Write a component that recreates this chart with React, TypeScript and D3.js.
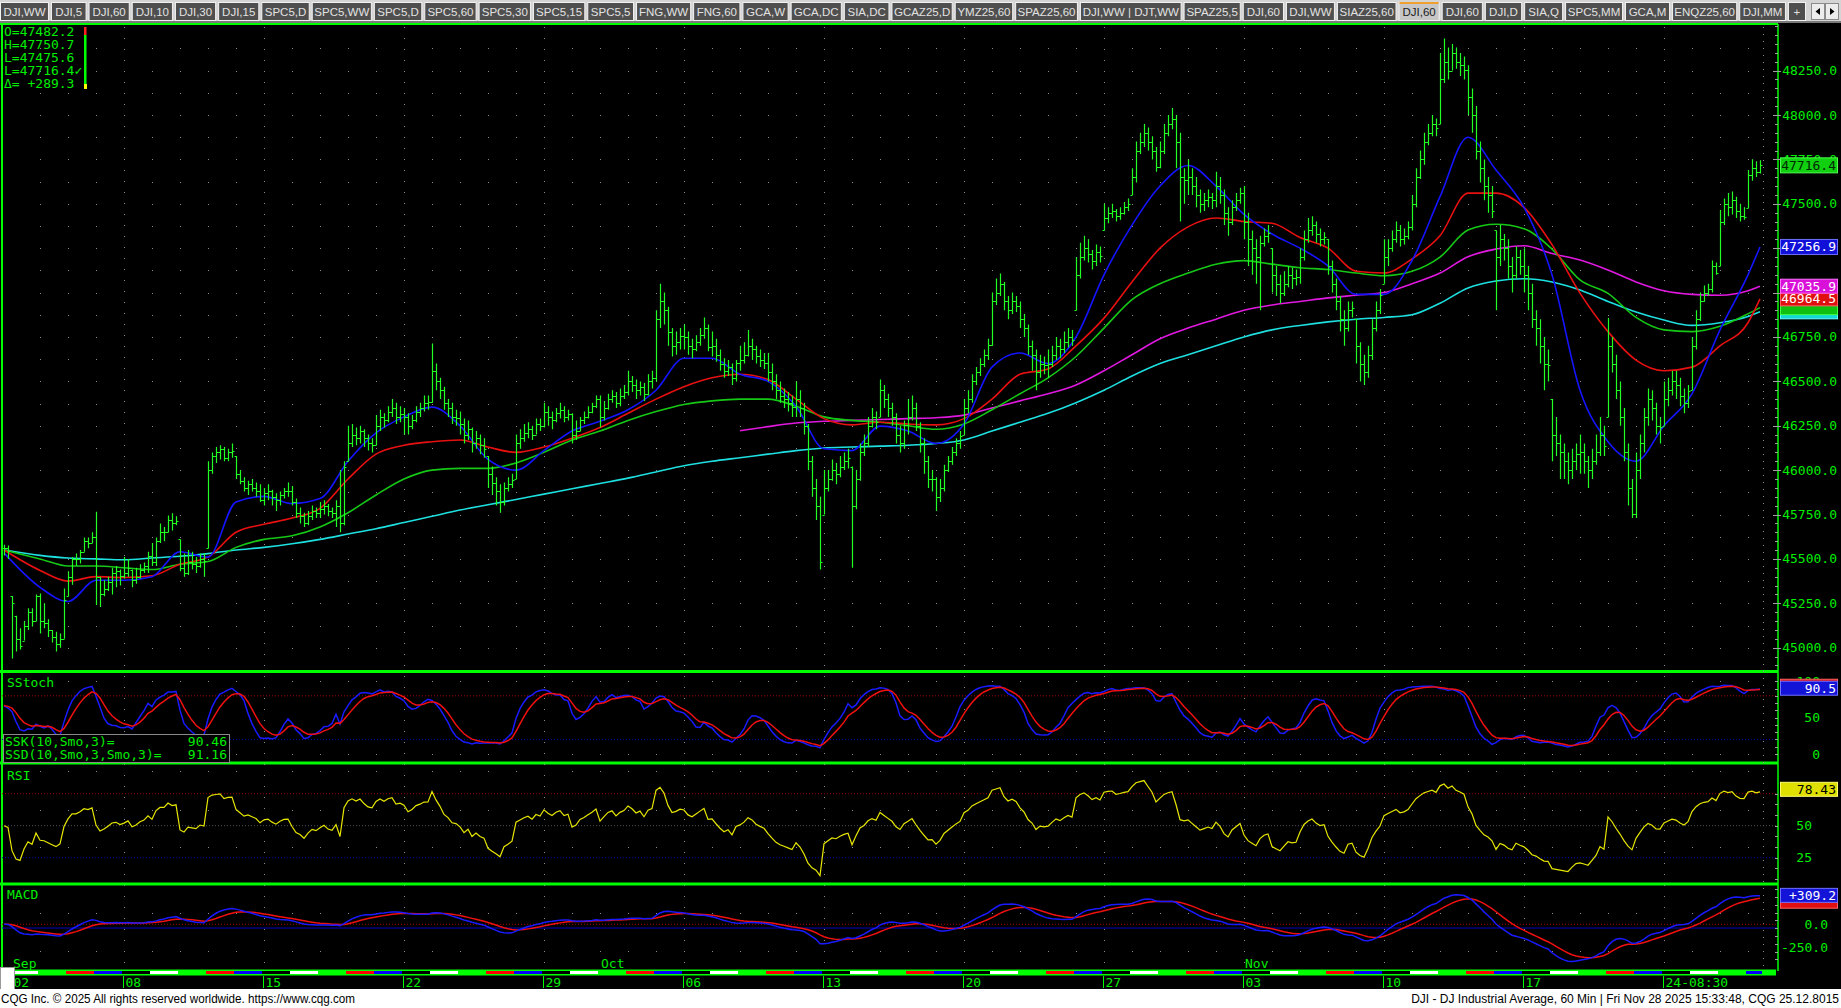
import React, { useMemo } from 'react';
import * as d3 from 'd3';

const FULL_W = 1841;
const FULL_H = 1008;

// ---------------- DATA ----------------
// Trading sessions shown (hourly bars, 7 per session, 4 on the half day Nov 28)
const sessionDates = [
  '2025-09-02','2025-09-03','2025-09-04','2025-09-05','2025-09-08','2025-09-09','2025-09-10','2025-09-11','2025-09-12',
  '2025-09-15','2025-09-16','2025-09-17','2025-09-18','2025-09-19','2025-09-22','2025-09-23','2025-09-24','2025-09-25',
  '2025-09-26','2025-09-29','2025-09-30','2025-10-01','2025-10-02','2025-10-03','2025-10-06','2025-10-07','2025-10-08',
  '2025-10-09','2025-10-10','2025-10-13','2025-10-14','2025-10-15','2025-10-16','2025-10-17','2025-10-20','2025-10-21',
  '2025-10-22','2025-10-23','2025-10-24','2025-10-27','2025-10-28','2025-10-29','2025-10-30','2025-10-31','2025-11-03',
  '2025-11-04','2025-11-05','2025-11-06','2025-11-07','2025-11-10','2025-11-11','2025-11-12','2025-11-13','2025-11-14',
  '2025-11-17','2025-11-18','2025-11-19','2025-11-20','2025-11-21','2025-11-24','2025-11-25','2025-11-26','2025-11-28'
];
const weekStartSessions = [0, 4, 9, 14, 19, 24, 29, 34, 39, 44, 49, 54, 59];
const weekTickLabels = ['02','08','15','22','29','06','13','20','27','03','10','17','24-08:30'];
const monthStartSessions = [0, 21, 44];
const monthLabels = ['Sep', 'Oct', 'Nov'];

// first two values: last two bars of Aug 29; then one row per session
const barClose = [
  45560, 45545,
  45250, 45050, 45010, 45120, 45200, 45150, 45290,
  45150, 45140, 45100, 45060, 45020, 45050, 45270,
  45400, 45500, 45500, 45540, 45600, 45590, 45621,
  45400, 45300, 45330, 45370, 45420, 45430, 45401,
  45420, 45450, 45380, 45400, 45440, 45460, 45515,
  45480, 45600, 45650, 45650, 45720, 45700, 45711,
  45450, 45420, 45480, 45470, 45460, 45500, 45490,
  46000, 46080, 46100, 46120, 46070, 46100, 46108,
  45980, 45940, 45900, 45920, 45900, 45880, 45834,
  45870, 45880, 45850, 45830, 45860, 45880, 45883,
  45820, 45760, 45740, 45700, 45740, 45770, 45758,
  45780, 45800, 45770, 45760, 45800, 45700, 46018,
  46150, 46200, 46180, 46220, 46180, 46150, 46142,
  46250, 46300, 46280, 46330, 46350, 46300, 46315,
  46300, 46250, 46280, 46330, 46350, 46380, 46381,
  46560, 46500, 46450, 46380, 46350, 46300, 46292,
  46260, 46200, 46230, 46150, 46180, 46140, 46121,
  45980, 45930, 45880, 45820, 45900, 45920, 45947,
  46150, 46180, 46210, 46230, 46200, 46260, 46247,
  46330, 46300, 46280, 46320, 46340, 46300, 46316,
  46200, 46220, 46280, 46300, 46330, 46360, 46398,
  46300, 46350, 46400, 46420, 46380, 46420, 46441,
  46500, 46480, 46450, 46470, 46430, 46500, 46519,
  46850, 46950, 46900, 46780, 46700, 46720, 46758,
  46750, 46700, 46680, 46720, 46760, 46800, 46694,
  46700, 46650, 46600, 46560, 46580, 46520, 46603,
  46620, 46650, 46700, 46680, 46640, 46620, 46602,
  46550, 46500, 46450, 46420, 46400, 46380, 46358,
  46400, 46350, 46250, 46050, 45900, 45800, 45480,
  45900, 45950, 46000, 45980, 46020, 46050, 46068,
  45800, 45950, 46100, 46150, 46250, 46300, 46270,
  46450, 46400, 46350, 46300, 46200, 46150, 46253,
  46300, 46350, 46250, 46150, 46050, 45950, 45952,
  45850, 45900, 46000, 46050, 46100, 46150, 46190,
  46350, 46400, 46500, 46550, 46600, 46650, 46706,
  46950, 47000, 47050, 46950, 46900, 46950, 46924,
  46850, 46800, 46700, 46650, 46550, 46600, 46590,
  46600, 46650, 46700, 46680, 46720, 46750, 46734,
  47100, 47200, 47250, 47220, 47180, 47230, 47207,
  47420, 47450, 47460, 47430, 47450, 47480, 47500,
  47650, 47800, 47850, 47900, 47850, 47800, 47706,
  47800, 47900, 47950, 47980, 47850, 47650, 47632,
  47650, 47600, 47550, 47500, 47520, 47540, 47522,
  47600, 47550, 47450, 47400, 47480, 47520, 47563,
  47400, 47300, 47250, 47200, 47280, 47320, 47336,
  47100, 47050, 47000, 47050, 47100, 47080, 47085,
  47200, 47300, 47350, 47380, 47330, 47300, 47311,
  47150, 47050, 46950, 46850, 46800, 46900, 46912,
  46700, 46600, 46550, 46650, 46800, 46900, 46987,
  47200, 47250, 47300, 47350, 47300, 47320, 47368,
  47500, 47650, 47750, 47850, 47900, 47950, 47927,
  48200, 48300, 48250, 48350, 48300, 48280, 48255,
  48100, 48000, 47800, 47700, 47600, 47550, 47457,
  47200, 47300, 47250, 47150, 47100, 47200, 47147,
  47100, 47000, 46850, 46800, 46700, 46600, 46590,
  46200, 46150, 46100, 46050, 46000, 46050, 46091,
  46100, 46050, 46000, 46050, 46100, 46200, 46138,
  46700, 46600, 46450, 46300, 46100, 45900, 45752,
  46000, 46150, 46300, 46400, 46350, 46250, 46245,
  46400, 46450, 46500, 46480, 46420, 46380, 46448,
  46700, 46850, 46950, 47000, 47020, 47150, 47112,
  47400, 47500, 47480, 47520, 47460, 47430, 47427,
  47660, 47700, 47680, 47716.4
];
const barHigh = [
  45580, 45575,
  45290, 45180, 45110, 45150, 45222, 45222, 45300,
  45306, 45250, 45160, 45100, 45090, 45080, 45334,
  45430, 45510, 45530, 45550, 45620, 45620, 45650,
  45766, 45400, 45380, 45400, 45450, 45460, 45440,
  45510, 45500, 45440, 45450, 45470, 45480, 45540,
  45590, 45620, 45700, 45680, 45745, 45757, 45740,
  45610, 45530, 45550, 45540, 45510, 45530, 45530,
  46050, 46100, 46130, 46140, 46130, 46120, 46150,
  46080, 46000, 45960, 45940, 45950, 45930, 45920,
  45900, 45920, 45890, 45870, 45880, 45900, 45930,
  45910, 45840, 45790, 45760, 45770, 45800, 45790,
  45820, 45830, 45810, 45790, 45830, 46000, 46050,
  46250, 46260, 46240, 46250, 46230, 46200, 46180,
  46310, 46340, 46320, 46360, 46400, 46380, 46360,
  46350, 46320, 46310, 46360, 46380, 46420, 46420,
  46714, 46600, 46520, 46470, 46400, 46380, 46340,
  46330, 46290, 46280, 46240, 46220, 46200, 46180,
  46080, 46020, 45960, 45920, 45930, 45960, 45980,
  46200, 46230, 46260, 46270, 46250, 46290, 46290,
  46380, 46360, 46330, 46350, 46380, 46360, 46340,
  46320, 46280, 46300, 46330, 46360, 46380, 46420,
  46420, 46390, 46430, 46450, 46440, 46460, 46480,
  46560, 46530, 46510, 46500, 46490, 46540, 46560,
  46900, 47050, 47000, 46920, 46800, 46780, 46800,
  46820, 46780, 46740, 46760, 46800, 46860, 46820,
  46780, 46740, 46680, 46630, 46620, 46600, 46620,
  46700, 46720, 46790, 46740, 46700, 46680, 46660,
  46660, 46600, 46540, 46500, 46460, 46440, 46420,
  46500, 46450, 46380, 46260, 46080, 45950, 45850,
  46000, 46000, 46060, 46040, 46080, 46100, 46120,
  46020, 46000, 46150, 46200, 46300, 46350, 46330,
  46510, 46480, 46430, 46380, 46320, 46250, 46280,
  46400, 46420, 46380, 46270, 46180, 46080, 46000,
  45960, 45950, 46030, 46080, 46130, 46180, 46220,
  46400, 46450, 46540, 46580, 46630, 46680, 46740,
  47000, 47080, 47107, 47060, 46980, 47000, 46980,
  46950, 46880, 46820, 46730, 46680, 46650, 46640,
  46680, 46700, 46750, 46740, 46780, 46800, 46790,
  47200, 47280, 47320, 47300, 47240, 47270, 47260,
  47500, 47480, 47500, 47470, 47480, 47510, 47530,
  47700, 47850, 47900, 47950, 47930, 47880, 47820,
  47850, 47950, 48000, 48040, 48000, 47900, 47700,
  47750, 47700, 47650, 47580, 47560, 47580, 47560,
  47680, 47650, 47580, 47480, 47520, 47560, 47590,
  47600, 47450, 47350, 47300, 47320, 47360, 47380,
  47250, 47150, 47100, 47120, 47150, 47140, 47130,
  47250, 47350, 47420, 47430, 47400, 47360, 47340,
  47300, 47180, 47080, 46980, 46900, 46950, 46950,
  46850, 46720, 46650, 46700, 46850, 46950, 47020,
  47300, 47300, 47350, 47400, 47380, 47360, 47400,
  47550, 47700, 47800, 47900, 47950, 48000, 47980,
  48350, 48431, 48380, 48400, 48380, 48350, 48330,
  48280, 48150, 48050, 47850, 47750, 47650, 47600,
  47350, 47380, 47330, 47300, 47200, 47260, 47240,
  47250, 47150, 47050, 46900, 46850, 46750, 46680,
  46400, 46300, 46200, 46150, 46100, 46120, 46150,
  46200, 46150, 46080, 46120, 46200, 46300, 46250,
  46856, 46750, 46650, 46500, 46350, 46150, 45950,
  46100, 46200, 46350, 46460, 46450, 46380, 46300,
  46500, 46520, 46560, 46560, 46520, 46460, 46480,
  46750, 46900, 47000, 47040, 47050, 47180, 47170,
  47465, 47530, 47560, 47570, 47540, 47500, 47480,
  47690, 47750.7, 47740, 47745
];
const barLow = [
  45520, 45500,
  44940, 44978, 44990, 45040, 45100, 45120, 45150,
  45080, 45110, 45060, 45030, 44978, 45000, 45050,
  45290, 45355, 45460, 45475, 45540, 45560, 45590,
  45240, 45230, 45290, 45320, 45300, 45340, 45350,
  45390, 45400, 45340, 45360, 45390, 45420, 45420,
  45460, 45460, 45590, 45600, 45650, 45660, 45690,
  45430, 45400, 45410, 45440, 45420, 45450, 45400,
  45560, 45980, 46040, 46060, 46050, 46050, 46070,
  45950, 45920, 45880, 45860, 45880, 45850, 45820,
  45800, 45830, 45800, 45770, 45800, 45840, 45850,
  45800, 45730, 45700, 45680, 45690, 45720, 45730,
  45730, 45750, 45740, 45730, 45680, 45650, 45690,
  46050, 46130, 46140, 46150, 46130, 46110, 46100,
  46140, 46220, 46240, 46270, 46300, 46260, 46270,
  46200, 46200, 46230, 46270, 46300, 46330, 46340,
  46380, 46450, 46400, 46340, 46300, 46260, 46250,
  46200, 46150, 46170, 46100, 46120, 46090, 46070,
  45900, 45860, 45800, 45760, 45800, 45880, 45900,
  45950, 46120, 46160, 46180, 46170, 46200, 46220,
  46240, 46250, 46230, 46270, 46290, 46270, 46280,
  46150, 46170, 46220, 46260, 46290, 46320, 46350,
  46240, 46280, 46340, 46380, 46350, 46360, 46400,
  46420, 46440, 46400, 46420, 46390, 46420, 46460,
  46500, 46800, 46820, 46700, 46640, 46650, 46680,
  46680, 46650, 46630, 46670, 46700, 46740, 46670,
  46640, 46610, 46560, 46520, 46530, 46480, 46500,
  46560, 46600, 46640, 46620, 46600, 46580, 46570,
  46500, 46450, 46400, 46380, 46350, 46330, 46300,
  46300, 46300, 46200, 46000, 45850, 45720, 45440,
  45750, 45880, 45940, 45920, 45960, 46000, 46010,
  45450, 45780, 45940, 46080, 46130, 46240, 46230,
  46300, 46350, 46300, 46250, 46150, 46100, 46120,
  46200, 46280, 46220, 46100, 45980, 45900, 45880,
  45770, 45820, 45880, 45990, 46030, 46080, 46120,
  46200, 46320, 46380, 46480, 46530, 46580, 46620,
  46700, 46930, 46980, 46900, 46850, 46880, 46890,
  46800, 46750, 46650, 46560, 46450, 46520, 46540,
  46520, 46580, 46620, 46630, 46660, 46690, 46700,
  46900, 47080, 47180, 47170, 47130, 47150, 47170,
  47350, 47390, 47420, 47400, 47410, 47440, 47460,
  47550, 47620, 47780, 47820, 47800, 47750, 47680,
  47700, 47780, 47880, 47920, 47700, 47400, 47500,
  47550, 47550, 47480, 47450, 47460, 47480, 47470,
  47480, 47500, 47380, 47320, 47380, 47460, 47500,
  47300, 47150, 47100, 47050, 46900, 47260, 47280,
  47000, 46980, 46940, 46980, 47030, 47020, 47040,
  47050, 47180, 47280, 47320, 47280, 47260, 47270,
  47100, 47000, 46900, 46780, 46700, 46780, 46860,
  46600, 46500, 46480, 46520, 46620, 46780, 46880,
  47050, 47150, 47230, 47280, 47260, 47270, 47300,
  47350, 47480, 47640, 47720, 47830, 47880, 47880,
  47950, 48180, 48200, 48250, 48260, 48220, 48200,
  48000, 47900, 47750, 47620, 47520, 47450, 47420,
  46900, 47150, 47180, 47080, 47000, 47080, 47100,
  47000, 46900, 46800, 46700, 46600, 46450, 46500,
  46050, 46080, 45950, 45950, 45920, 45950, 46000,
  45980, 45980, 45900, 45950, 46030, 46080, 46080,
  46300, 46550, 46400, 46250, 46050, 45800, 45730,
  45730, 45950, 46100, 46250, 46280, 46200, 46150,
  46250, 46360, 46420, 46400, 46360, 46320, 46350,
  46450, 46680, 46840, 46950, 46980, 47000, 47100,
  47150, 47380, 47430, 47440, 47420, 47400, 47410,
  47476, 47630, 47650, 47670
];

// Moving averages at each session start (first = chart start, last = latest bar)
const maBlue = [45534,45340,45260,45380,45380,45400,45540,45510,45820,45852,45812,45840,46050,46210,46300,46355,46250,46060,46000,46110,46220,46275,46340,46450,46630,46630,46540,46500,46360,46120,46110,46248,46220,46150,46260,46580,46660,46600,46750,47100,47380,47600,47716,47600,47440,47330,47250,47150,46990,46990,47180,47540,47875,47690,47480,47100,46450,46160,46050,46250,46430,46790,47100,47256.9];
const maRed = [45550,45435,45375,45400,45395,45405,45470,45510,45650,45695,45730,45785,45950,46090,46140,46160,46170,46130,46100,46130,46180,46240,46320,46400,46470,46520,46540,46510,46400,46290,46255,46270,46260,46255,46290,46400,46540,46570,46700,46856,47060,47250,47370,47420,47400,47390,47310,47250,47120,47110,47190,47320,47560,47560,47480,47270,46997,46780,46620,46560,46580,46700,46830,46964.5];
const maGreen = [45550,45500,45460,45460,45450,45440,45470,45485,45565,45610,45630,45680,45760,45860,45950,46000,46010,46010,46040,46100,46170,46220,46280,46330,46370,46390,46400,46400,46360,46300,46280,46270,46250,46230,46260,46340,46430,46520,46640,46800,46960,47050,47110,47160,47180,47160,47140,47130,47110,47095,47120,47200,47352,47385,47360,47245,47071,46995,46860,46790,46780,46810,46880,46915];
const maMagenta = [null,null,null,null,null,null,null,null,null,null,null,null,null,null,null,null,null,null,null,null,null,null,null,null,null,null,46222,46245,46265,46275,46280,46285,46290,46295,46310,46350,46390,46430,46480,46560,46650,46740,46800,46850,46900,46930,46950,46970,46985,47000,47050,47110,47202,47245,47264,47220,47183,47127,47060,47010,46990,46985,47010,47035.9];
const maCyan = [45550,45520,45505,45500,45495,45505,45515,45530,45550,45565,45585,45610,45640,45670,45705,45740,45775,45805,45835,45865,45895,45925,45955,45990,46025,46050,46070,46090,46110,46125,46130,46135,46140,46150,46170,46220,46270,46320,46380,46450,46530,46600,46650,46700,46750,46790,46815,46835,46850,46860,46875,46940,47026,47065,47078,47060,47015,46950,46890,46845,46815,46830,46865,46891.6];

const priceTicks = [45000,45250,45500,45750,46000,46250,46500,46750,47000,47250,47500,47750,48000,48250];
const hiddenPriceTicks = [47000, 47250]; // fully covered by the value boxes in the reference
const stochTicks = [0, 50, 100];
const rsiTicks = [25, 50];
const macdTicks = [-250, 0];

const infoLines = ['O=47482.2', 'H=47750.7', 'L=47475.6', 'L=47716.4\u2713', '\u0394= +289.3'];
const lastPriceLabel = 47716.4;
const sskValue = 90.46, ssdValue = 91.16, rsiValue = 78.43, macdValue = 309.2, macdSignalValue = 268;

const tabLabels = ['DJI,WW','DJI,5','DJI,60','DJI,10','DJI,30','DJI,15','SPC5,D','SPC5,WW','SPC5,D','SPC5,60','SPC5,30','SPC5,15','SPC5,5','FNG,WW','FNG,60','GCA,W','GCA,DC','SIA,DC','GCAZ25,D','YMZ25,60','SPAZ25,60','DJI,WW  |  DJT,WW','SPAZ25,5','DJI,60','DJI,WW','SIAZ25,60','DJI,60','DJI,60','DJI,D','SIA,Q','SPC5,MM','GCA,M','ENQZ25,60','DJI,MM','+'];
const activeTab = 26;

// ---------------- LAYOUT ----------------
const PL = 2, PR = 1778;
const MAIN_T = 24, MAIN_B = 671.5, ST_B = 763, RSI_B = 884, MACD_B = 969;
const MONO = "'DejaVu Sans Mono', monospace";
const GREEN = '#00ee00';

function smoothAvg(a: number[], n: number) {
  const out: number[] = [];
  a.forEach((v, i) => { out.push(i === 0 ? v : out[i - 1] + (v - out[i - 1]) / n); });
  return out;
}
function ema(a: number[], n: number) {
  const k = 2 / (n + 1); const out: number[] = [];
  a.forEach((v, i) => out.push(i === 0 ? v : out[i - 1] + k * (v - out[i - 1])));
  return out;
}

export default function App() {
  const m = useMemo(() => {
    const nBars = barClose.length;
    const kOf = (i: number) => i - 2;
    const xs = d3.scaleLinear().domain([-3, 441.5]).range([0, PR]);
    const ps = d3.scaleLinear().domain([45000, 48000]).range([647.7, 115]);
    const ss = d3.scaleLinear().domain([0, 100]).range([754, 681.3]);
    const rs = d3.scaleLinear().domain([25, 75]).range([857.7, 793.7]);
    const ms = d3.scaleLinear().domain([-250, 0]).range([947.7, 924.3]);

    const opens = barClose.map((c, i) => {
      const prev = i === 0 ? c : barClose[i - 1];
      return Math.max(barLow[i], Math.min(barHigh[i], prev));
    });
    let barPath = '';
    for (let i = 0; i < nBars; i++) {
      const x = Math.round(xs(kOf(i))) + 0.5;
      const hi = Math.max(barHigh[i], barClose[i]);
      const lo = Math.min(barLow[i], barClose[i]);
      let yH = ps(hi), yL = ps(lo);
      if (yL - yH < 1) yL = yH + 1;
      const yO = Math.round(ps(opens[i])) + 0.5, yC = Math.round(ps(barClose[i])) + 0.5;
      barPath += `M${x},${yH.toFixed(1)}V${yL.toFixed(1)}M${x - 2},${yO}H${x}M${x},${yC}H${x + 2}`;
    }

    // indicators computed from the bars
    const fastK = barClose.map((c, i) => {
      const s = Math.max(0, i - 9);
      const hh = d3.max(barHigh.slice(s, i + 1)) as number;
      const ll = d3.min(barLow.slice(s, i + 1)) as number;
      return hh === ll ? 50 : (100 * (c - ll)) / (hh - ll);
    });
    const ssk = smoothAvg(fastK, 3);
    const ssd = smoothAvg(ssk, 3);
    const rsi: number[] = [];
    let ag = 20, al = 20;
    barClose.forEach((c, i) => {
      if (i > 0) {
        const ch = c - barClose[i - 1];
        ag = (ag * 13 + Math.max(ch, 0)) / 14;
        al = (al * 13 + Math.max(-ch, 0)) / 14;
      }
      rsi.push(al === 0 ? 100 : 100 - 100 / (1 + ag / al));
    });
    const e12 = ema(barClose, 12), e26 = ema(barClose, 26);
    const macd = e12.map((v, i) => v - e26[i]);
    const sig = ema(macd, 9);

    const lineOf = (vals: number[], ys: any) =>
      d3.line<number>().x((_, i) => xs(kOf(i))).y((v) => ys(v))(vals) || '';

    const maBars = [-2, ...d3.range(1, sessionDates.length).map((d) => d * 7), nBars - 3];
    const maLine = (vals: (number | null)[]) =>
      d3.line<number | null>()
        .defined((v) => v !== null)
        .x((_, i) => xs(maBars[i]))
        .y((v) => ps(v as number))
        .curve(d3.curveMonotoneX)(vals) || '';

    const sessStart = (d: number) => d * 7;
    const sessLen = (d: number) => (d === sessionDates.length - 1 ? nBars - 2 - d * 7 : 7);
    const weekday = sessionDates.map((s) => new Date(s + 'T12:00:00').getDay());

    let dots = '';
    const dotRow = (y: number) => {
      sessionDates.forEach((_, d) => {
        if (weekStartSessions.includes(d)) return;
        const x = Math.round(xs(sessStart(d)));
        dots += `M${x},${Math.round(y)}h1v1h-1z`;
      });
    };
    for (let p = 44875; p <= 48500; p += 125) {
      const y = ps(p);
      if (y > MAIN_T + 3 && y < MAIN_B - 3) dotRow(y);
    }
    [100, 0].forEach((v) => dotRow(ss(v)));
    [93, 62, 33].forEach((v) => dotRow(rs(v)));
    [120, -290].forEach((v) => dotRow(ms(v)));

    const ctx = document.createElement('canvas').getContext('2d') as CanvasRenderingContext2D;
    ctx.font = "11.5px 'Liberation Sans'";
    const natural = tabLabels.map((t) => ctx.measureText(t).width + 14);
    const gap = 2;
    const target = 1806 - gap * (tabLabels.length - 1);
    const f = target / d3.sum(natural);
    let cx = 0;
    const tabs = tabLabels.map((t, i) => {
      const w = natural[i] * f;
      const r = { x: cx, w, t };
      cx += w + gap;
      return r;
    });

    return { xs, ps, ss, rs, ms, barPath, ssk, ssd, rsi, macd, sig, lineOf, maLine, sessStart, sessLen, weekday, dots, tabs };
  }, []);

  const { xs, ps, ss, rs, ms } = m;

  const valueBox = (y: number, fill: string, stroke: string, text: string | null, color: string, key: string, h = 15) => (
    <g key={key}>
      <rect x={1780.5} y={y - h / 2} width={57} height={h} fill={fill} stroke={stroke} strokeWidth={1} />
      {text !== null && <text x={1836} y={y + 4.5} textAnchor="end" fill={color} fontFamily={MONO} fontSize={13}>{text}</text>}
    </g>
  );

  const stripColor = (wd: number) => (wd === 1 ? '#000000' : wd === 2 ? '#ffffff' : wd === 3 ? '#00ff00' : wd === 4 ? '#ff0000' : '#0000ff');
  const lastOf = (a: (number | null)[]) => a[a.length - 1] as number;

  return (
    <svg width={FULL_W} height={FULL_H} style={{ position: 'absolute', left: 0, top: 0, display: 'block' }}>
      <defs>
        <clipPath id="cMain"><rect x={PL + 1} y={MAIN_T + 1} width={PR - PL - 2} height={MAIN_B - MAIN_T - 2} /></clipPath>
        <clipPath id="cSt"><rect x={PL + 1} y={MAIN_B + 1.5} width={PR - PL - 2} height={ST_B - MAIN_B - 3} /></clipPath>
        <clipPath id="cRsi"><rect x={PL + 1} y={ST_B + 1.5} width={PR - PL - 2} height={RSI_B - ST_B - 3} /></clipPath>
        <clipPath id="cMacd"><rect x={PL + 1} y={RSI_B + 1.5} width={PR - PL - 2} height={MACD_B - RSI_B - 2} /></clipPath>
      </defs>
      <rect x={0} y={0} width={FULL_W} height={FULL_H} fill="#000" />

      {/* tab bar */}
      <rect x={0} y={0} width={FULL_W} height={22} fill="#d4d4d4" />
      {m.tabs.map((t, i) => (
        <g key={'tab' + i}>
          <rect x={t.x + 0.5} y={2.5} width={t.w - 1} height={18} fill={i === activeTab ? '#c6c6c6' : '#4f4f4f'} stroke="#f2f2f2" strokeWidth={1} />
          {i === activeTab && <rect x={t.x + 1} y={2} width={t.w - 2} height={2} fill="#f0a030" />}
          <text x={t.x + t.w / 2} y={15.5} textAnchor="middle" fill={i === activeTab ? '#202020' : '#e2e2e2'} fontFamily="'Liberation Sans', Arial, sans-serif" fontSize={11.5}>{t.t}</text>
        </g>
      ))}
      <rect x={1811.5} y={3.5} width={13} height={16} fill="#ececec" stroke="#8a8a8a" />
      <rect x={1825.5} y={3.5} width={13} height={16} fill="#ececec" stroke="#8a8a8a" />
      <path d="M1820,8 L1815.5,11.5 L1820,15 Z" fill="#000" />
      <path d="M1830,8 L1834.5,11.5 L1830,15 Z" fill="#000" />
      <rect x={0} y={21} width={FULL_W} height={2} fill="#7a7a7a" />

      {/* panel frames */}
      <line x1={0} x2={PR} y1={MAIN_T} y2={MAIN_T} stroke="#00ff00" strokeWidth={2} />
      <line x1={PL} x2={PL} y1={MAIN_T} y2={MACD_B + 1} stroke="#00ff00" strokeWidth={2} />
      {[MAIN_B, ST_B, RSI_B].map((y, i) => (
        <line key={'sep' + i} x1={0} x2={PR} y1={y} y2={y} stroke="#00ff00" strokeWidth={3} />
      ))}

      {/* grid */}
      <path d={m.dots} fill="#8c8c8c" />
      {weekStartSessions.slice(1).map((d) => (
        <line key={'wk' + d} x1={Math.round(xs(m.sessStart(d))) + 0.5} x2={Math.round(xs(m.sessStart(d))) + 0.5} y1={MAIN_T + 3} y2={MACD_B - 2} stroke="#8c8c8c" strokeDasharray="1 10" />
      ))}
      <line x1={Math.round(xs(437.75)) + 0.5} x2={Math.round(xs(437.75)) + 0.5} y1={MAIN_T + 3} y2={MACD_B - 2} stroke="#8c8c8c" strokeDasharray="1 6" />

      {/* main panel */}
      <g clipPath="url(#cMain)">
        <path d={m.maLine(maCyan)} fill="none" stroke="#1ee0e0" strokeWidth={1.6} />
        <path d={m.maLine(maMagenta)} fill="none" stroke="#e018e0" strokeWidth={1.6} />
        <path d={m.maLine(maGreen)} fill="none" stroke="#16c816" strokeWidth={1.6} />
        <path d={m.maLine(maRed)} fill="none" stroke="#e81010" strokeWidth={1.6} />
        <path d={m.maLine(maBlue)} fill="none" stroke="#1414ff" strokeWidth={1.6} />
        <path d={m.barPath} fill="none" stroke="#22ff22" strokeWidth={1.2} />
      </g>

      {/* info box */}
      {infoLines.map((t, i) => (
        <text key={'inf' + i} x={4} y={36 + i * 13} fill={GREEN} fontFamily={MONO} fontSize={13}>{t}</text>
      ))}
      <rect x={84} y={27} width={2.5} height={8} fill="#ff2020" />
      <rect x={84} y={35} width={2.5} height={50} fill="#00ff00" />
      <rect x={84} y={84} width={3} height={5} fill="#ffff00" />

      {/* stochastic panel */}
      <line x1={PL} x2={PR} y1={ss(80)} y2={ss(80)} stroke="#a00000" strokeDasharray="1 2" />
      <line x1={PL} x2={PR} y1={ss(20)} y2={ss(20)} stroke="#0000b0" strokeDasharray="1 2" />
      <g clipPath="url(#cSt)">
        <path d={m.lineOf(m.ssk, ss)} fill="none" stroke="#1a1aff" strokeWidth={1.5} />
        <path d={m.lineOf(m.ssd, ss)} fill="none" stroke="#f01010" strokeWidth={1.5} />
      </g>
      <text x={7} y={687} fill={GREEN} fontFamily={MONO} fontSize={13}>SStoch</text>
      <rect x={3.5} y={734.5} width={226} height={28} fill="#000" stroke="#8a8a8a" />
      <text x={5} y={746} fill={GREEN} fontFamily={MONO} fontSize={13}>SSK(10,Smo,3)=</text>
      <text x={227} y={746} textAnchor="end" fill={GREEN} fontFamily={MONO} fontSize={13}>{sskValue.toFixed(2)}</text>
      <text x={5} y={759} fill={GREEN} fontFamily={MONO} fontSize={13}>SSD(10,Smo,3,Smo,3)=</text>
      <text x={227} y={759} textAnchor="end" fill={GREEN} fontFamily={MONO} fontSize={13}>{ssdValue.toFixed(2)}</text>

      {/* RSI panel */}
      <line x1={PL} x2={PR} y1={rs(75)} y2={rs(75)} stroke="#a00000" strokeDasharray="1 2" />
      <line x1={PL} x2={PR} y1={rs(50)} y2={rs(50)} stroke="#505050" strokeDasharray="1 2" />
      <line x1={PL} x2={PR} y1={rs(25)} y2={rs(25)} stroke="#0000b0" strokeDasharray="1 2" />
      <g clipPath="url(#cRsi)">
        <path d={m.lineOf(m.rsi, rs)} fill="none" stroke="#e6e600" strokeWidth={1.2} />
      </g>
      <text x={7} y={780} fill={GREEN} fontFamily={MONO} fontSize={13}>RSI</text>

      {/* MACD panel */}
      <line x1={PL} x2={PR} y1={ms(0)} y2={ms(0)} stroke="#a00000" strokeDasharray="1 2" />
      <line x1={PL} x2={PR} y1={ms(-40)} y2={ms(-40)} stroke="#0000c0" strokeWidth={1} />
      <g clipPath="url(#cMacd)">
        <path d={m.lineOf(m.sig, ms)} fill="none" stroke="#f01010" strokeWidth={1.5} />
        <path d={m.lineOf(m.macd, ms)} fill="none" stroke="#1a1aff" strokeWidth={1.5} />
      </g>
      <text x={7} y={899} fill={GREEN} fontFamily={MONO} fontSize={13}>MACD</text>

      {/* month labels */}
      {monthStartSessions.map((d, i) => (
        <text key={'mo' + i} x={Math.round(xs(m.sessStart(d))) + 1} y={968} fill={GREEN} fontFamily={MONO} fontSize={13}>{monthLabels[i]}</text>
      ))}

      {/* day strip */}
      <rect x={0} y={969.5} width={PR - 2} height={6} fill="#00ff00" />
      {sessionDates.map((_, d) => {
        const wd = m.weekday[d];
        if (wd === 3) return null;
        const x0 = xs(m.sessStart(d) - 0.5);
        const x1 = xs(m.sessStart(d) + m.sessLen(d) - 0.5);
        return <rect key={'st' + d} x={x0} y={971} width={x1 - x0} height={3} fill={stripColor(wd)} />;
      })}

      {/* time axis */}
      {weekStartSessions.map((d, i) => {
        const x = Math.round(xs(m.sessStart(d))) - 0.5;
        return (
          <g key={'wt' + i}>
            <line x1={x} x2={x} y1={976} y2={988} stroke="#00ff00" />
            <text x={x + 2} y={986.5} fill={GREEN} fontFamily={MONO} fontSize={13}>{weekTickLabels[i]}</text>
          </g>
        );
      })}
      <rect x={0.5} y={967.5} width={14} height={22} fill="#ffffff" stroke="#9a9a9a" />

      {/* right axis */}
      <line x1={PR} x2={PR} y1={MAIN_T} y2={MACD_B + 2} stroke="#00ff00" strokeWidth={1.5} />
      {d3.range(44900, 48550, 50).map((p) => (
        ps(p) > MAIN_T + 2 && ps(p) < MAIN_B - 2 ? <line key={'pt' + p} x1={PR - 3} x2={PR} y1={Math.round(ps(p)) + 0.5} y2={Math.round(ps(p)) + 0.5} stroke="#a0a0a0" /> : null
      ))}
      {priceTicks.map((p) => (
        <g key={'pl' + p}>
          <line x1={PR - 5} x2={PR + 3} y1={Math.round(ps(p)) + 0.5} y2={Math.round(ps(p)) + 0.5} stroke="#a0a0a0" />
          {!hiddenPriceTicks.includes(p) && (
            <text x={1837} y={ps(p) + 4.5} textAnchor="end" fill={GREEN} fontFamily={MONO} fontSize={13}>{p.toFixed(1)}</text>
          )}
        </g>
      ))}
      {d3.range(0, 101, 10).map((v) => (
        <line key={'stt' + v} x1={PR - 3} x2={PR} y1={Math.round(ss(v)) + 0.5} y2={Math.round(ss(v)) + 0.5} stroke="#a0a0a0" />
      ))}
      {stochTicks.map((v) => (
        <text key={'stl' + v} x={1820} y={ss(v) + 4.5} textAnchor="end" fill={GREEN} fontFamily={MONO} fontSize={13}>{v}</text>
      ))}
      {d3.range(0, 9).map((j) => (
        <line key={'rst' + j} x1={PR - 3} x2={PR} y1={Math.round(rs(25 + (j - 2) * (25 / 3))) + 0.5} y2={Math.round(rs(25 + (j - 2) * (25 / 3))) + 0.5} stroke="#a0a0a0" />
      ))}
      {rsiTicks.map((v) => (
        <text key={'rsl' + v} x={1812} y={rs(v) + 4.5} textAnchor="end" fill={GREEN} fontFamily={MONO} fontSize={13}>{v}</text>
      ))}
      {d3.range(0, 10).map((j) => (
        <line key={'mct' + j} x1={PR - 3} x2={PR} y1={Math.round(ms(-375 + j * (250 / 3))) + 0.5} y2={Math.round(ms(-375 + j * (250 / 3))) + 0.5} stroke="#a0a0a0" />
      ))}
      {macdTicks.map((v) => (
        <text key={'mcl' + v} x={1828} y={ms(v) + 4.5} textAnchor="end" fill={GREEN} fontFamily={MONO} fontSize={13}>{v.toFixed(1)}</text>
      ))}

      {/* value boxes (stacked as in CQG; covered ones show only their edge) */}
      {valueBox(ps(lastOf(maCyan)), '#14d8d8', '#60ffff', null, '#005a5a', 'bc', 14)}
      {valueBox(ps(lastOf(maGreen)), '#10c010', '#40ff40', null, '#003000', 'bg', 14)}
      {valueBox(ps(lastOf(maRed)), '#e01010', '#ff6060', lastOf(maRed).toFixed(1), '#ffffff', 'br', 14)}
      {valueBox(ps(lastOf(maMagenta)), '#d810d8', '#ff70ff', lastOf(maMagenta).toFixed(1), '#ffffff', 'bm', 14)}
      {valueBox(ps(lastOf(maBlue)), '#1010d8', '#7070ff', lastOf(maBlue).toFixed(1), '#ffffff', 'bb')}
      {valueBox(ps(lastPriceLabel), '#10d010', '#50ff50', lastPriceLabel.toFixed(1), '#002800', 'bl')}
      {valueBox(ss(ssdValue) - 1.5, '#e01010', '#ff6060', null, '#ffffff', 'bsd', 14)}
      {valueBox(ss(sskValue), '#1414d8', '#7070ff', sskValue.toFixed(1), '#ffffff', 'bsk', 14)}
      {valueBox(rs(rsiValue), '#e0e000', '#ffff70', rsiValue.toFixed(2), '#000000', 'brsi', 14)}
      {valueBox(ms(macdSignalValue) + 2, '#e01010', '#ff6060', null, '#ffffff', 'bms', 14)}
      {valueBox(ms(macdValue), '#1414d8', '#7070ff', '+' + macdValue.toFixed(1), '#ffffff', 'bmc', 14)}

      {/* footer */}
      <rect x={0} y={989} width={FULL_W} height={FULL_H - 989} fill="#ffffff" />
      <text x={1} y={1003} fill="#000" fontFamily="'Liberation Sans', Arial, sans-serif" fontSize={12} textLength={354} lengthAdjust="spacingAndGlyphs">CQG Inc. © 2025 All rights reserved worldwide. https://www.cqg.com</text>
      <text x={1839} y={1003} textAnchor="end" fill="#000" fontFamily="'Liberation Sans', Arial, sans-serif" fontSize={12}>DJI - DJ Industrial Average, 60 Min | Fri Nov 28 2025 15:33:48, CQG 25.12.8015</text>
    </svg>
  );
}
